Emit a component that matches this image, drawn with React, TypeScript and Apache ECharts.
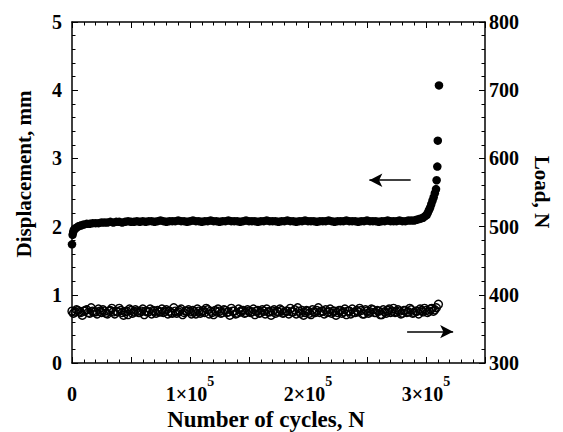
import React, { useEffect, useRef } from 'react';
import * as echarts from 'echarts';

const FONT = 'Liberation Serif';

// Displacement (mm) vs number of cycles
const dispCycles = [
  0, 500, 1000, 1500, 2500, 3500, 5000, 6500, 8000, 10000,
  12500, 15000, 17500, 20000, 22500, 25000, 27500, 30000, 32500, 35000,
  37500, 40000, 42500, 45000, 47500, 50000, 52500, 55000, 57500, 60000,
  62500, 65000, 67500, 70000, 72500, 75000, 77500, 80000, 82500, 85000,
  87500, 90000, 92500, 95000, 97500, 100000, 102500, 105000, 107500, 110000,
  112500, 115000, 117500, 120000, 122500, 125000, 127500, 130000, 132500, 135000,
  137500, 140000, 142500, 145000, 147500, 150000, 152500, 155000, 157500, 160000,
  162500, 165000, 167500, 170000, 172500, 175000, 177500, 180000, 182500, 185000,
  187500, 190000, 192500, 195000, 197500, 200000, 202500, 205000, 207500, 210000,
  212500, 215000, 217500, 220000, 222500, 225000, 227500, 230000, 232500, 235000,
  237500, 240000, 242500, 245000, 247500, 250000, 252500, 255000, 257500, 260000,
  262500, 265000, 267500, 270000, 272500, 275000, 277500, 280000, 282500, 285000,
  287500, 290000,
  292000, 294000, 296000, 297500, 299000, 300500, 301500, 302500, 303500, 304500,
  305500, 306500, 307500,
  308500, 309000, 309600, 310000, 311000,
];
const displacement = [
  1.74, 1.88, 1.92, 1.95, 1.97, 1.98, 2.0, 2.01, 2.02, 2.03,
  2.04, 2.04, 2.05, 2.05, 2.05, 2.06, 2.06, 2.06, 2.07, 2.06,
  2.07, 2.07, 2.06, 2.07, 2.08, 2.07, 2.07, 2.08, 2.07, 2.08,
  2.07, 2.08, 2.08, 2.07, 2.08, 2.09, 2.08, 2.07, 2.08, 2.08,
  2.08, 2.09, 2.08, 2.08, 2.07, 2.08, 2.09, 2.08, 2.08, 2.07,
  2.08, 2.08, 2.09, 2.08, 2.08, 2.07, 2.08, 2.08, 2.09, 2.08,
  2.08, 2.08, 2.07, 2.08, 2.09, 2.08, 2.08, 2.08, 2.07, 2.08,
  2.08, 2.09, 2.08, 2.08, 2.08, 2.07, 2.08, 2.08, 2.09, 2.08,
  2.08, 2.07, 2.08, 2.08, 2.09, 2.08, 2.08, 2.08, 2.07, 2.08,
  2.08, 2.08, 2.09, 2.08, 2.07, 2.08, 2.08, 2.08, 2.09, 2.08,
  2.08, 2.08, 2.07, 2.08, 2.08, 2.09, 2.08, 2.08, 2.08, 2.07,
  2.08, 2.08, 2.09, 2.08, 2.08, 2.08, 2.09, 2.08, 2.08, 2.09,
  2.09, 2.09,
  2.1, 2.11, 2.12, 2.13, 2.15, 2.17, 2.2, 2.24, 2.28, 2.33,
  2.38, 2.43, 2.49,
  2.55, 2.68, 2.88, 3.26, 4.07,
];

// Load (N) vs number of cycles, first set of readings
const loadCycles = [
  0, 2500, 5000, 7500, 10000, 12500, 15000, 17500, 20000, 22500,
  25000, 27500, 30000, 32500, 35000, 37500, 40000, 42500, 45000, 47500,
  50000, 52500, 55000, 57500, 60000, 62500, 65000, 67500, 70000, 72500,
  75000, 77500, 80000, 82500, 85000, 87500, 90000, 92500, 95000, 97500,
  100000, 102500, 105000, 107500, 110000, 112500, 115000, 117500, 120000, 122500,
  125000, 127500, 130000, 132500, 135000, 137500, 140000, 142500, 145000, 147500,
  150000, 152500, 155000, 157500, 160000, 162500, 165000, 167500, 170000, 172500,
  175000, 177500, 180000, 182500, 185000, 187500, 190000, 192500, 195000, 197500,
  200000, 202500, 205000, 207500, 210000, 212500, 215000, 217500, 220000, 222500,
  225000, 227500, 230000, 232500, 235000, 237500, 240000, 242500, 245000, 247500,
  250000, 252500, 255000, 257500, 260000, 262500, 265000, 267500, 270000, 272500,
  275000, 277500, 280000, 282500, 285000, 287500, 290000, 292500, 295000, 297500,
  300000, 302500, 305000, 307500,
  310500,
];
const load = [
  376, 375, 377, 374, 376, 378, 373, 376, 375, 379,
  374, 376, 372, 377, 375, 376, 380, 374, 375, 371,
  377, 375, 376, 374, 379, 376, 375, 372, 376, 377,
  375, 374, 378, 376, 373, 376, 375, 379, 374, 376,
  375, 377, 372, 376, 375, 374, 378, 376, 371, 375,
  376, 374, 377, 375, 380, 376, 373, 375, 377, 374,
  376, 375, 371, 377, 374, 376, 379, 375, 376, 373,
  375, 377, 374, 376, 380, 375, 372, 376, 377, 374,
  376, 371, 375, 377, 374, 376, 378, 375, 373, 376,
  374, 377, 375, 371, 376, 379, 374, 375, 377, 372,
  376, 375, 378, 374, 376, 371, 375, 377, 374, 380,
  375, 376, 373, 377, 375, 378, 374, 376, 379, 375,
  377, 376, 380, 378,
  386,
];

// Load (N), second set of readings between the first ones
const loadCyclesB = [
  1250, 3750, 6250, 8750, 11250, 13750, 16250, 18750, 21250, 23750,
  26250, 28750, 31250, 33750, 36250, 38750, 41250, 43750, 46250, 48750,
  51250, 53750, 56250, 58750, 61250, 63750, 66250, 68750, 71250, 73750,
  76250, 78750, 81250, 83750, 86250, 88750, 91250, 93750, 96250, 98750,
  101250, 103750, 106250, 108750, 111250, 113750, 116250, 118750, 121250, 123750,
  126250, 128750, 131250, 133750, 136250, 138750, 141250, 143750, 146250, 148750,
  151250, 153750, 156250, 158750, 161250, 163750, 166250, 168750, 171250, 173750,
  176250, 178750, 181250, 183750, 186250, 188750, 191250, 193750, 196250, 198750,
  201250, 203750, 206250, 208750, 211250, 213750, 216250, 218750, 221250, 223750,
  226250, 228750, 231250, 233750, 236250, 238750, 241250, 243750, 246250, 248750,
  251250, 253750, 256250, 258750, 261250, 263750, 266250, 268750, 271250, 273750,
  276250, 278750, 281250, 283750, 286250, 288750, 291250, 293750, 296250, 298750,
  301250, 303750, 306250, 308750,
];
const loadB = [
  373, 378, 375, 370, 377, 374, 381, 375, 372, 376,
  378, 373, 376, 380, 372, 375, 377, 370, 376, 379,
  373, 378, 374, 376, 371, 375, 379, 377, 373, 375,
  379, 376, 372, 374, 381, 373, 377, 371, 376, 378,
  372, 375, 379, 373, 377, 380, 372, 374, 377, 379,
  373, 378, 374, 370, 376, 372, 379, 377, 373, 378,
  374, 379, 376, 373, 378, 372, 375, 370, 378, 376,
  379, 373, 376, 372, 375, 378, 381, 373, 370, 377,
  373, 378, 374, 381, 376, 372, 374, 379, 376, 370,
  377, 373, 379, 376, 372, 374, 377, 380, 372, 378,
  373, 379, 374, 377, 371, 378, 373, 379, 376, 374,
  378, 372, 377, 374, 380, 373, 376, 372, 377, 380,
  374, 379, 376, 381,
];

const xMin = 0;
const xMax = 350000;
const xStep = 50000;
const dispMin = 0;
const dispMax = 5;
const loadMin = 300;
const loadMax = 800;

const xTitle = 'Number of cycles, N';
const leftTitle = 'Displacement, mm';
const rightTitle = 'Load, N';

export default function App() {
  const ref = useRef<HTMLDivElement>(null);

  useEffect(() => {
    const chart = echarts.init(ref.current!, null, { renderer: 'svg' });

    const tickCommon = {
      axisTick: { show: true, inside: true, length: 6, lineStyle: { color: '#000', width: 1 } },
      minorTick: { show: true, splitNumber: 5, length: 3.5, lineStyle: { color: '#000', width: 1 } },
      splitLine: { show: false },
      minorSplitLine: { show: false },
    };
    const axisLine = { show: true, onZero: false, lineStyle: { color: '#000', width: 1.5 } };
    const labelFont = { fontFamily: FONT, fontWeight: 'bold' as const, fontSize: 20, color: '#000' };

    const loadData = loadCycles
      .map((c, i) => [c, load[i]])
      .concat(loadCyclesB.map((c, i) => [c, loadB[i]]));

    const option: any = {
      animation: false,
      backgroundColor: '#fff',
      grid: { left: 72, right: 78, top: 22, bottom: 69, containLabel: false },
      xAxis: [
        {
          type: 'value',
          position: 'bottom',
          min: xMin,
          max: xMax,
          interval: xStep,
          axisLine,
          ...tickCommon,
          axisLabel: {
            margin: 11,
            formatter: (v: number) => {
              if (v === 0) return '{a|0}';
              if (v % 100000 !== 0) return '';
              return '{a|' + v / 100000 + '×10}{b|5}';
            },
            rich: {
              a: { ...labelFont, lineHeight: 30, verticalAlign: 'bottom' },
              b: { ...labelFont, fontSize: 14, lineHeight: 13, verticalAlign: 'top' },
            },
          },
        },
        {
          type: 'value',
          position: 'top',
          min: xMin,
          max: xMax,
          interval: xStep,
          axisLine,
          ...tickCommon,
          axisLabel: { show: false },
        },
      ],
      yAxis: [
        {
          type: 'value',
          position: 'left',
          min: dispMin,
          max: dispMax,
          interval: 1,
          axisLine,
          ...tickCommon,
          axisLabel: { ...labelFont, margin: 10 },
        },
        {
          type: 'value',
          position: 'right',
          min: loadMin,
          max: loadMax,
          interval: 100,
          axisLine,
          ...tickCommon,
          axisLabel: { ...labelFont, margin: 4 },
        },
      ],
      series: [
        {
          type: 'scatter',
          name: 'Load',
          xAxisIndex: 0,
          yAxisIndex: 1,
          symbol: 'circle',
          symbolSize: 8,
          data: loadData,
          itemStyle: { color: 'rgba(0,0,0,0)', borderColor: '#000', borderWidth: 1.4, opacity: 1 },
          emphasis: { disabled: true },
          markLine: {
            silent: true,
            symbol: ['none', 'arrow'],
            symbolSize: [10, 13],
            label: { show: false },
            lineStyle: { color: '#000', width: 1.5, type: 'solid' },
            data: [[{ coord: [284000, 346] }, { coord: [323000, 346] }]],
          },
        },
        {
          type: 'scatter',
          name: 'Displacement',
          xAxisIndex: 0,
          yAxisIndex: 0,
          symbol: 'circle',
          symbolSize: 8.5,
          data: dispCycles.map((c, i) => [c, displacement[i]]),
          itemStyle: { color: '#000', opacity: 1 },
          emphasis: { disabled: true },
          markLine: {
            silent: true,
            symbol: ['none', 'arrow'],
            symbolSize: [10, 13],
            label: { show: false },
            lineStyle: { color: '#000', width: 1.5, type: 'solid' },
            data: [[{ coord: [287000, 2.68] }, { coord: [252000, 2.68] }]],
          },
        },
      ],
      graphic: [
        {
          type: 'text',
          x: 24,
          y: 174,
          rotation: Math.PI / 2,
          style: {
            text: leftTitle,
            fontFamily: FONT,
            fontWeight: 'bold',
            fontSize: 21,
            fill: '#000',
            align: 'center',
            verticalAlign: 'middle',
          },
        },
        {
          type: 'text',
          x: 542,
          y: 192,
          rotation: -Math.PI / 2,
          style: {
            text: rightTitle,
            fontFamily: FONT,
            fontWeight: 'bold',
            fontSize: 21,
            fill: '#000',
            align: 'center',
            verticalAlign: 'middle',
          },
        },
        {
          type: 'text',
          x: 266,
          y: 419,
          style: {
            text: xTitle,
            fontFamily: FONT,
            fontWeight: 'bold',
            fontSize: 23,
            fill: '#000',
            align: 'center',
            verticalAlign: 'middle',
          },
        },
      ],
    };

    chart.setOption(option);
    return () => chart.dispose();
  }, []);

  return (
    <div
      ref={ref}
      style={{ position: 'fixed', left: 0, top: 0, width: 563, height: 432, background: '#fff' }}
    />
  );
}
